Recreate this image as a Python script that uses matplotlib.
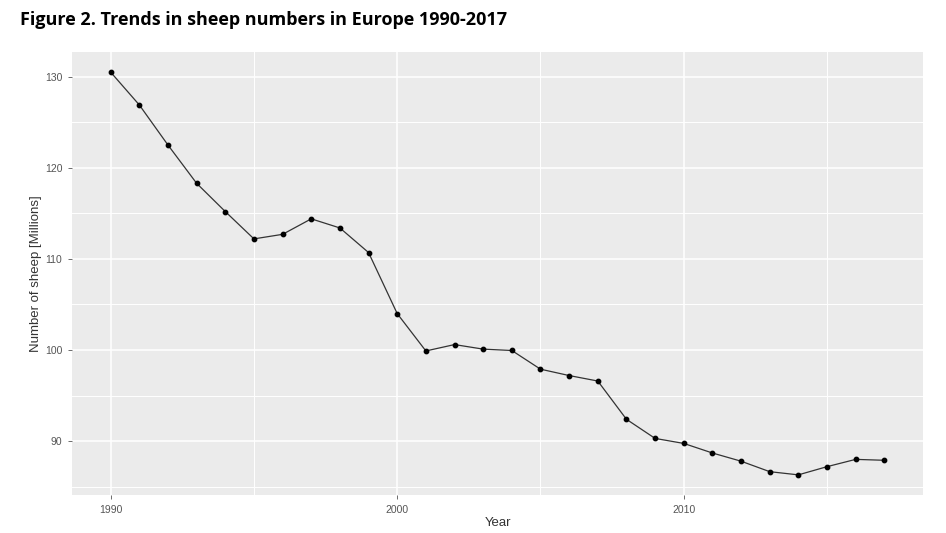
import numpy as np
import matplotlib
matplotlib.use("Agg")
import matplotlib.pyplot as plt
from matplotlib.ticker import MultipleLocator

years = list(range(1990, 2018))
sheep_millions = [130.5, 126.9, 122.5, 118.3, 115.2, 112.2, 112.7, 114.4, 113.4, 110.7,
                  104.0, 99.9, 100.6, 100.1, 99.95, 97.9, 97.2, 96.6, 92.4, 90.3,
                  89.75, 88.7, 87.8, 86.65, 86.3, 87.2, 88.0, 87.9]

title = "Figure 2. Trends in sheep numbers in Europe 1990-2017"
xlabel = "Year"
ylabel = "Number of sheep [Millions]"

plt.rcParams['font.family'] = ['Liberation Sans', 'DejaVu Sans']

fig = plt.figure(figsize=(9.46, 5.33), dpi=100)
ax = fig.add_axes([0.0761, 0.0713, 0.8996, 0.8311])

ax.set_facecolor("#EBEBEB")
for s in ax.spines.values():
    s.set_visible(False)

# ggplot-like limits (5% expansion)
x = np.array(years)
y = np.array(sheep_millions)
xr = x.max() - x.min()
yr = y.max() - y.min()
ax.set_xlim(x.min() - 0.05 * xr, x.max() + 0.05 * xr)
ax.set_ylim(y.min() - 0.05 * yr, y.max() + 0.05 * yr)

ax.xaxis.set_major_locator(MultipleLocator(10))
ax.xaxis.set_minor_locator(MultipleLocator(5))
ax.yaxis.set_major_locator(MultipleLocator(10))
ax.yaxis.set_minor_locator(MultipleLocator(5))

ax.grid(which="major", color="white", linewidth=1.1)
ax.grid(which="minor", color="white", linewidth=0.7)
ax.set_axisbelow(True)

ax.tick_params(which="major", length=3, width=0.6, color="#555555",
               labelsize=7.5, labelcolor="#555555", pad=4)
ax.tick_params(which="minor", length=0)

ax.plot(x, y, color="#333333", linewidth=0.9, zorder=3)
ax.scatter(x, y, s=10, color="black", zorder=4)

ax.set_xlabel(xlabel, fontsize=9.5, color="#333333", labelpad=2)
ax.set_ylabel(ylabel, fontsize=9.5, color="#333333", labelpad=2)

fig.text(0.021, 0.963, title, fontsize=13, fontweight="bold",
         family=["Open Sans", "DejaVu Sans"], va="center", ha="left")

fig.savefig("out.png", dpi=100, facecolor="white")
